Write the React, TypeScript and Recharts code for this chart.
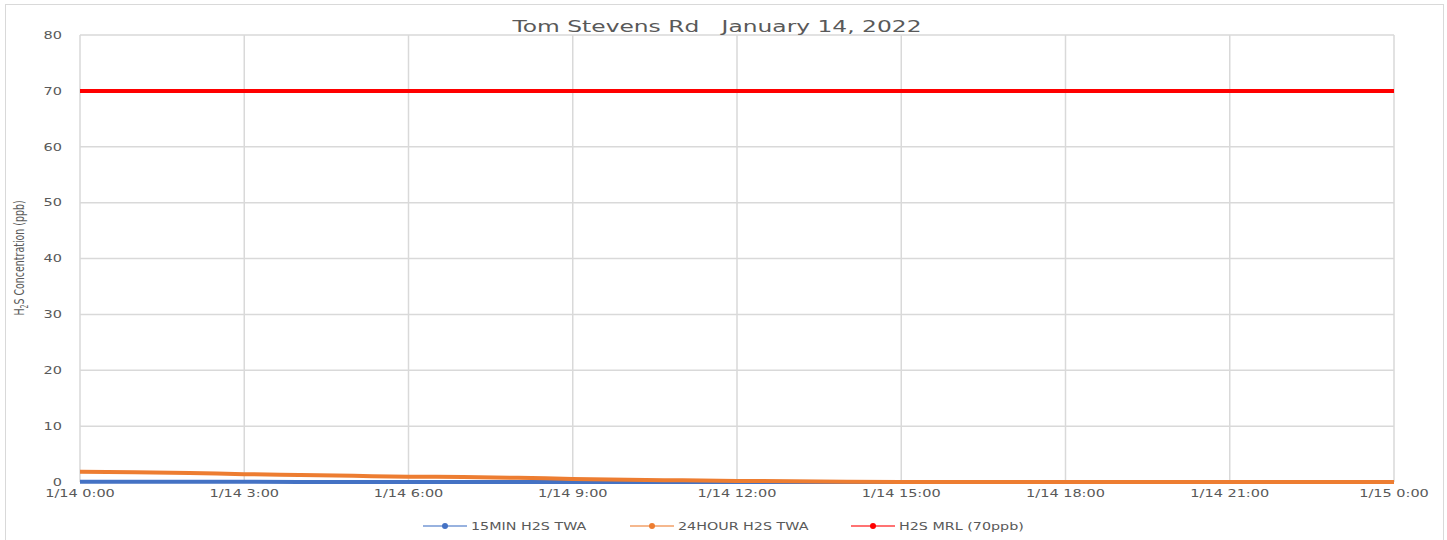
import { LineChart, Line, XAxis, YAxis, CartesianGrid } from "recharts";

const hours = [0, 1, 2, 3, 4, 5, 6, 7, 8, 9, 10, 11, 12, 13, 14, 15, 16, 17, 18, 19, 20, 21, 22, 23, 24];
const min15Twa = [0.05, 0.04, 0.03, 0.03, 0.02, 0.02, 0.02, 0.02, 0.01, 0.01, 0, 0, 0, 0, 0, 0, 0, 0, 0, 0, 0, 0, 0, 0, 0];
const hour24Twa = [1.85, 1.75, 1.6, 1.4, 1.25, 1.1, 0.95, 0.9, 0.75, 0.55, 0.4, 0.3, 0.2, 0.12, 0.06, 0.02, 0, 0, 0, 0, 0, 0, 0, 0, 0];
const mrl = [70, 70, 70, 70, 70, 70, 70, 70, 70, 70, 70, 70, 70, 70, 70, 70, 70, 70, 70, 70, 70, 70, 70, 70, 70];

const xTicks = [0, 3, 6, 9, 12, 15, 18, 21, 24];
const xTickLabels = ["1/14 0:00", "1/14 3:00", "1/14 6:00", "1/14 9:00", "1/14 12:00", "1/14 15:00", "1/14 18:00", "1/14 21:00", "1/15 0:00"];
const yTicks = [0, 10, 20, 30, 40, 50, 60, 70, 80];

const seriesNames = ["15MIN H2S TWA", "24HOUR H2S TWA", "H2S MRL (70ppb)"];
const seriesColors = ["#4472C4", "#ED7D31", "#FF0000"];

const data = hours.map((h, i) => ({
  hour: h,
  min15: min15Twa[i],
  hour24: hour24Twa[i],
  mrl: mrl[i],
}));

const font = "'DejaVu Sans', sans-serif";
const gray = "#595959";
const stretch = 1.38; // reference text is horizontally stretched
const legendX = [423, 630, 851];

function XTick(props: any) {
  const { x, y, payload } = props;
  return (
    <text
      transform={`translate(${x},${y}) scale(${stretch},1)`}
      textAnchor="middle"
      dy="0.71em"
      fontFamily={font}
      fontSize={10.5}
      fill={gray}
    >
      {xTickLabels[xTicks.indexOf(payload.value)]}
    </text>
  );
}

function YTick(props: any) {
  const { y, payload } = props;
  return (
    <text
      transform={`translate(62,${y}) scale(${stretch},1)`}
      textAnchor="end"
      dy="0.36em"
      fontFamily={font}
      fontSize={10.5}
      fill={gray}
    >
      {payload.value}
    </text>
  );
}

function YLabel() {
  return (
    <text
      transform="translate(24, 258) rotate(-90) scale(1, 1.4)"
      textAnchor="middle"
      fontFamily="'DejaVu Sans Condensed', 'Liberation Sans Narrow', sans-serif"
      fontSize={10.5}
      fill={gray}
    >
      H<tspan fontSize={7} dy={2.5}>2</tspan>
      <tspan dy={-2.5}>S Concentration (ppb)</tspan>
    </text>
  );
}

function Overlay() {
  return (
    <svg width={1447} height={540} style={{ position: "absolute", left: 0, top: 0, pointerEvents: "none" }}>
      <text
        transform="translate(717,32) scale(1.46,1)"
        textAnchor="middle"
        fontFamily={font}
        fontSize={16}
        fill={gray}
        style={{ whiteSpace: "pre" }}
      >
        {"Tom Stevens Rd   January 14, 2022"}
      </text>
      {seriesNames.map((name, i) => (
        <g key={name} transform={`translate(${legendX[i]},526)`}>
          <line x1={0} y1={0} x2={44} y2={0} stroke={seriesColors[i]} strokeOpacity={0.55} strokeWidth={2} />
          <circle cx={22} cy={0} r={3} fill={seriesColors[i]} />
          <text transform="translate(48,0) scale(1.3,1)" dy="0.36em" fontFamily={font} fontSize={11} fill={gray}>
            {name}
          </text>
        </g>
      ))}
    </svg>
  );
}

export default function App() {
  return (
    <div style={{ position: "absolute", left: 0, top: 0, width: 1447, height: 540, background: "#fff", overflow: "hidden" }}>
      <div
        style={{
          position: "absolute",
          left: 5,
          top: 4,
          width: 1437,
          height: 560,
          border: "1px solid #d9d9d9",
        }}
      />
      <div style={{ position: "absolute", left: 0, top: 0 }}>
        <LineChart width={1447} height={540} data={data} margin={{ top: 35, right: 53, bottom: 28, left: 0 }}>
          <CartesianGrid stroke="#d9d9d9" strokeWidth={1.5} horizontalValues={yTicks} verticalValues={xTicks} />
          <XAxis
            dataKey="hour"
            type="number"
            domain={[0, 24]}
            ticks={xTicks}
            axisLine={false}
            tickLine={false}
            tickMargin={2}
            interval={0}
            tick={<XTick />}
          />
          <YAxis
            type="number"
            domain={[0, 80]}
            ticks={yTicks}
            width={80}
            axisLine={false}
            tickLine={false}
            interval={0}
            tick={<YTick />}
            label={<YLabel />}
          />
          <Line dataKey="mrl" stroke={seriesColors[2]} strokeWidth={4} dot={false} isAnimationActive={false} />
          <Line dataKey="min15" stroke={seriesColors[0]} strokeWidth={4} dot={false} isAnimationActive={false} />
          <Line type="monotone" dataKey="hour24" stroke={seriesColors[1]} strokeWidth={4} dot={false} isAnimationActive={false} />
        </LineChart>
      </div>
      <Overlay />
    </div>
  );
}
